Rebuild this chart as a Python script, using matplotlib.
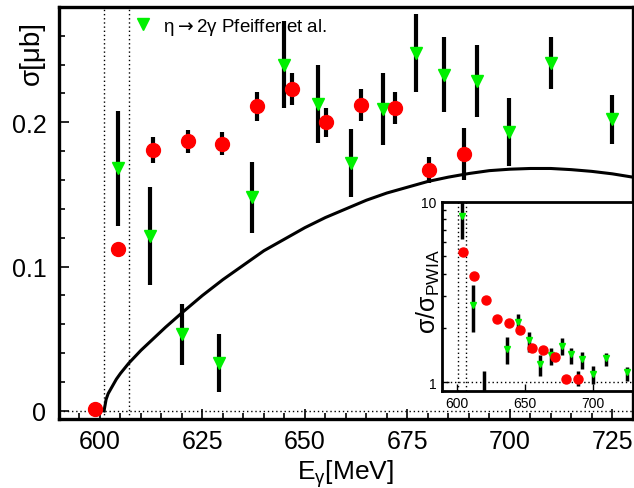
import matplotlib

matplotlib.use("Agg")
import matplotlib.pyplot as plt
from matplotlib.lines import Line2D
from matplotlib.ticker import MultipleLocator, FixedLocator, LogLocator, NullFormatter

plt.rcParams["font.family"] = ["Liberation Sans", "DejaVu Sans"]

# --- data --------------------------------------------------------------
# theory curve (PWIA), sigma in mub
curve_e = [601, 601.5, 602, 603, 604, 605, 607, 610, 613, 616, 620, 625, 630, 635,
           640, 645, 650, 655, 660, 665, 670, 675, 680, 685, 690, 695, 700, 705,
           710, 715, 720, 725, 730]
curve_s = [0.0, 0.008, 0.012, 0.017, 0.022, 0.026, 0.033, 0.042, 0.050, 0.058,
           0.068, 0.080, 0.091, 0.101, 0.111, 0.119, 0.127, 0.134, 0.140, 0.146,
           0.151, 0.155, 0.159, 0.162, 0.1645, 0.1665, 0.1675, 0.168, 0.168,
           0.1672, 0.166, 0.1643, 0.162]

# this work (red)
red_e = [598.7, 604.5, 613.0, 621.5, 629.7, 638.3, 646.9, 655.2, 663.6, 672.1, 680.4, 688.9]
red_s = [0.0015, 0.112, 0.181, 0.187, 0.185, 0.211, 0.223, 0.200, 0.212, 0.210, 0.167, 0.178]
red_err = [0.0, 0.004, 0.009, 0.008, 0.008, 0.010, 0.011, 0.010, 0.011, 0.011, 0.009, 0.018]

# eta -> 2 gamma, Pfeiffer et al. (green)
grn_e = [604.3, 612.3, 620.1, 629.1, 637.2, 645.0, 653.1, 661.2, 669.1, 677.2,
         684.0, 692.1, 699.9, 710.0, 725.0]
grn_s = [0.168, 0.121, 0.053, 0.033, 0.148, 0.240, 0.2125, 0.172, 0.209, 0.248,
         0.233, 0.2285, 0.193, 0.241, 0.202]
grn_err = [0.040, 0.034, 0.021, 0.020, 0.0245, 0.030, 0.027, 0.0235, 0.025, 0.027,
           0.026, 0.025, 0.0235, 0.018, 0.017]

# inset: ratio to PWIA
ins_red_e = red_e[1:]
ins_red_r = [5.28, 3.88, 2.84, 2.23, 2.13, 1.95, 1.56, 1.51, 1.38, 1.04, 1.05]
ins_red_lo = [0.1, 0.15, 0.1, 0.08, 0.08, 0.08, 0.06, 0.06, 0.06, 0.05, 0.10]
ins_red_hi = [0.1, 0.15, 0.1, 0.08, 0.08, 0.08, 0.06, 0.06, 0.06, 0.05, 0.11]

ins_grn_e = grn_e
ins_grn_r = [8.3, 2.68, 0.77, 0.37, 1.53, 2.15, 1.72, 1.26, 1.42, 1.60, 1.44, 1.35,
             1.11, 1.36, 1.14]
ins_grn_lo = [6.25, 1.90, 0.5, 0.15, 1.26, 1.90, 1.48, 1.08, 1.25, 1.41, 1.26, 1.19,
              0.98, 1.24, 1.02]
ins_grn_hi = [13.0, 3.44, 1.16, 0.59, 1.78, 2.40, 1.91, 1.42, 1.56, 1.76, 1.56, 1.48,
              1.24, 1.45, 1.21]

thresholds = [601, 607]

RED = "#ff0000"
GREEN = "#00f000"

fig = plt.figure(figsize=(6.34, 4.89), dpi=100)
ax = fig.add_axes([0.093, 0.141, 0.905, 0.843])

ax.plot(curve_e, curve_s, color="black", lw=2.2, zorder=2)
for t in thresholds:
    ax.axvline(t, color="black", ls=(0, (1, 2)), lw=1.0, zorder=1)
ax.axhline(0, color="black", ls=(0, (1, 2)), lw=1.0, zorder=1)

ax.errorbar(grn_e, grn_s, yerr=grn_err, fmt="v", color=GREEN, ms=8.5, mec=GREEN,
            ecolor="black", elinewidth=3.0, capsize=0, zorder=3)
ax.errorbar(red_e, red_s, yerr=red_err, fmt="o", color=RED, ms=10, mec=RED,
            ecolor="black", elinewidth=3.0, capsize=0, zorder=4)

ax.set_xlim(590, 730)
ax.set_ylim(-0.0056, 0.28)
ax.xaxis.set_major_locator(FixedLocator([600, 625, 650, 675, 700, 725]))
ax.xaxis.set_minor_locator(MultipleLocator(5))
ax.yaxis.set_major_locator(FixedLocator([0, 0.1, 0.2]))
ax.yaxis.set_minor_locator(MultipleLocator(0.02))
ax.set_yticklabels(["0", "0.1", "0.2"])
ax.tick_params(which="both", direction="in", top=False, right=False, width=1.2)
ax.tick_params(which="major", length=7, labelsize=18)
ax.tick_params(axis="y", which="major", pad=9)
ax.tick_params(axis="x", which="major", pad=7)
ax.tick_params(which="minor", length=4)
for sp in ax.spines.values():
    sp.set_linewidth(2.4)

ax.set_xlabel(r"E$_\mathregular{γ}$[MeV]", fontsize=19, labelpad=3)
ax.set_ylabel("σ[μb]", fontsize=20)
ax.yaxis.set_label_coords(-0.024, 0.89)

handle = Line2D([], [], marker="v", ls="none", color=GREEN, ms=8.5)
ax.legend([handle], [r"η$\rightarrow$2γ Pfeiffer et al."], loc="upper left",
          bbox_to_anchor=(0.11, 1.005), frameon=False, fontsize=13.5,
          handlelength=1.0, handletextpad=0.6, borderaxespad=0.2)

# inset
ins = fig.add_axes([0.6976, 0.199, 0.3008, 0.3865])
ins.set_facecolor("white")
for t in thresholds:
    ins.axvline(t, color="black", ls=(0, (1, 2)), lw=1.0, zorder=1)
ins.axhline(1, color="black", ls=(0, (1, 2)), lw=1.0, zorder=1)

g_lo = [r - l for r, l in zip(ins_grn_r, ins_grn_lo)]
g_hi = [h - r for r, h in zip(ins_grn_r, ins_grn_hi)]
ins.errorbar(ins_grn_e, ins_grn_r, yerr=[g_lo, g_hi], fmt="v", color=GREEN, ms=5,
             mec=GREEN, ecolor="black", elinewidth=2.5, capsize=0, zorder=3)
ins.errorbar(ins_red_e, ins_red_r, yerr=[ins_red_lo, ins_red_hi], fmt="o", color=RED,
             ms=6.5, mec=RED, ecolor="black", elinewidth=2.5, capsize=0, zorder=4)

ins.set_yscale("log")
ins.set_xlim(589.5, 729.5)
ins.set_ylim(0.9, 10)
ins.xaxis.set_major_locator(FixedLocator([600, 650, 700]))
ins.yaxis.set_major_locator(FixedLocator([1, 10]))
ins.yaxis.set_minor_locator(LogLocator(base=10, subs=range(2, 10)))
ins.yaxis.set_minor_formatter(NullFormatter())
ins.set_yticklabels(["1", "10"])
ins.tick_params(which="both", direction="in", top=False, right=False, width=1.0)
ins.tick_params(which="major", length=5, labelsize=10, pad=4)
ins.tick_params(which="minor", length=3)
for sp in ins.spines.values():
    sp.set_linewidth(2.0)
ins.set_ylabel(r"σ/σ$_\mathregular{PWIA}$", fontsize=18)
ins.yaxis.set_label_coords(0.0, 0.53)

fig.savefig("out.png", dpi=100)
